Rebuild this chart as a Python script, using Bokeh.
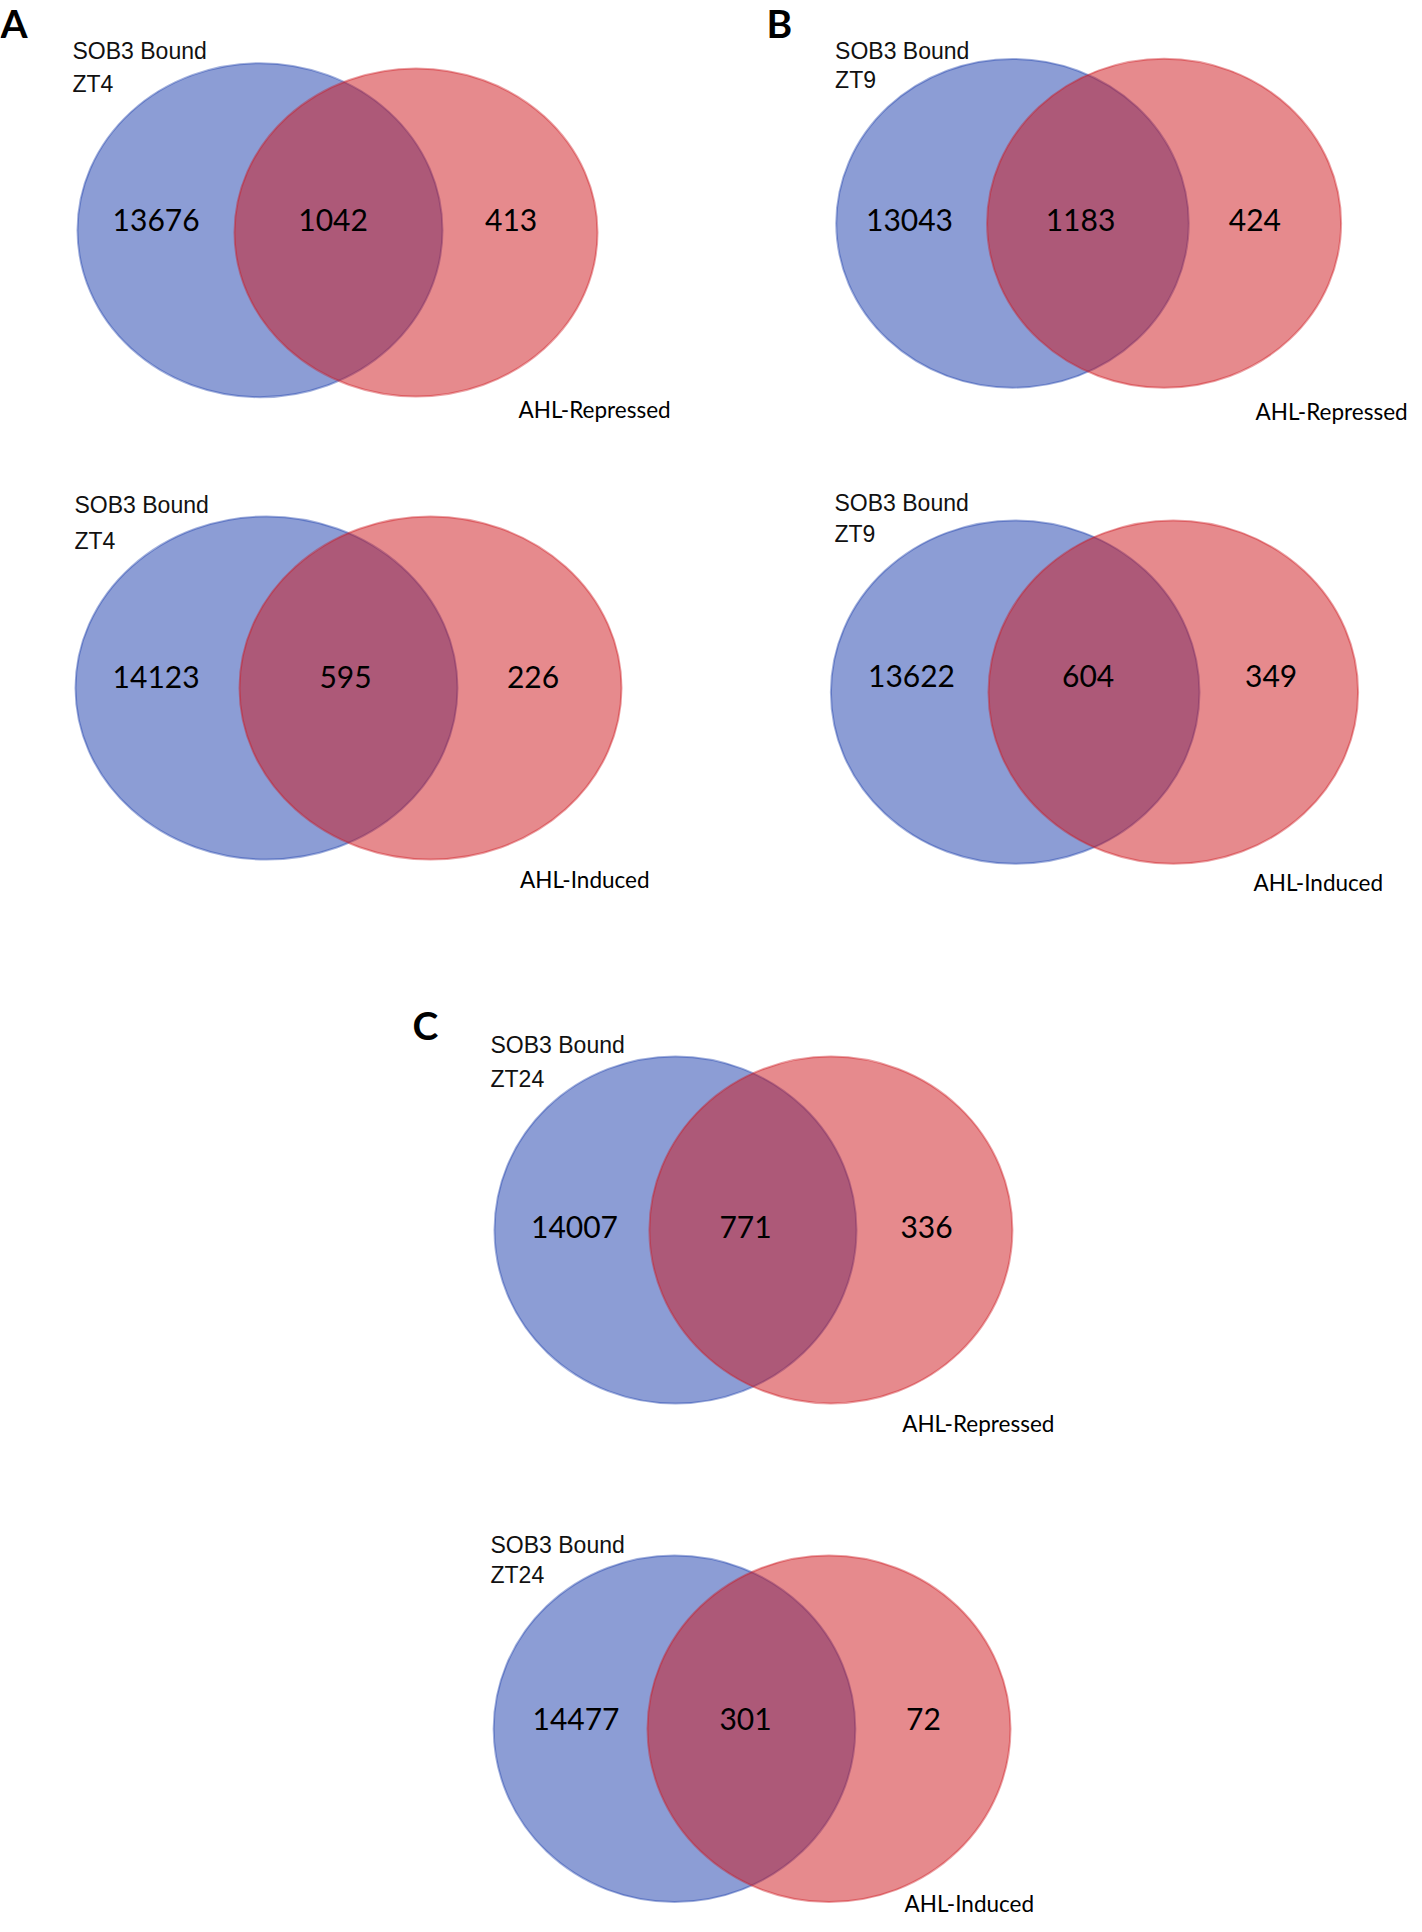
from bokeh.plotting import figure
from bokeh.models import Range1d, ColumnDataSource
from bokeh.core.properties import value
from bokeh.embed import file_html
from bokeh.resources import INLINE

# ---------------- data ----------------
panel_letters = ["A", "A", "B", "B", "C", "C"]
timepoints = ["ZT4", "ZT4", "ZT9", "ZT9", "ZT24", "ZT24"]
set1_name = "SOB3 Bound"
set2_names = ["AHL-Repressed", "AHL-Induced", "AHL-Repressed",
              "AHL-Induced", "AHL-Repressed", "AHL-Induced"]
sob3_only = [13676, 14123, 13043, 13622, 14007, 14477]
shared = [1042, 595, 1183, 604, 771, 301]
ahl_only = [413, 226, 424, 349, 336, 72]

# ---------------- layout (picture pixels, text = visual centre) ----------------
# per diagram: blue ellipse (cx, cy, w, h), red ellipse (cx, cy, w, h),
# count x-centres, count y-centre, set1 label (x, line1 y, line2 y), set2 label (x, y)
layout = [
    dict(blue=(259.5, 229.7, 365, 334), red=(415.5, 232.0, 363, 328),
         cx=(155.6, 332.6, 510.6), cy=220.5, s1=(72, 51.0, 84.0), s2=(518, 410.0)),
    dict(blue=(266.0, 687.5, 382, 343), red=(430.0, 687.5, 382, 343),
         cx=(155.6, 345.0, 532.5), cy=677.0, s1=(74, 505.5, 541.0), s2=(519.5, 880.0)),
    dict(blue=(1012.0, 222.8, 352.5, 329), red=(1163.6, 222.8, 354, 329),
         cx=(909.0, 1080.0, 1254.4), cy=220.8, s1=(834.6, 51.0, 80.0), s2=(1255, 412.0)),
    dict(blue=(1014.7, 691.7, 368.6, 343.3), red=(1172.8, 691.7, 369.6, 343.3),
         cx=(911.0, 1087.6, 1270.6), cy=676.0, s1=(834, 503.5, 534.0), s2=(1253, 882.5)),
    dict(blue=(675.0, 1229.5, 362, 347), red=(830.4, 1229.5, 363, 347),
         cx=(574.0, 745.0, 926.0), cy=1227.0, s1=(490, 1045.0, 1079.0), s2=(901.7, 1424.4)),
    dict(blue=(674.0, 1728.3, 361.7, 346.7), red=(828.5, 1728.3, 363, 346.7),
         cx=(575.5, 745.0, 923.0), cy=1719.0, s1=(490, 1545.0, 1575.0), s2=(904, 1904.0)),
]
letter_pos = {"A": (0, 23.0), "B": (766, 23.0), "C": (412, 1025.0)}
TEXT_DY = 1.0

BLUE = (25, 59, 171)
RED = (205, 21, 27)

W, H = 1414, 1916
p = figure(width=W, height=H, x_range=Range1d(0, W), y_range=Range1d(-H, 0),
           output_backend="svg", toolbar_location=None, min_border=0,
           x_axis_type=None, y_axis_type=None)
p.outline_line_color = None
p.background_fill_color = "white"
p.border_fill_color = "white"

def Y(py):
    return -py

def TY(py):
    return -(py - TEXT_DY)

# ellipses
for key, col in (("blue", BLUE), ("red", RED)):
    src = ColumnDataSource(dict(
        x=[d[key][0] for d in layout],
        y=[Y(d[key][1]) for d in layout],
        w=[d[key][2] for d in layout],
        h=[d[key][3] for d in layout],
    ))
    p.ellipse(x="x", y="y", width="w", height="h", source=src,
              fill_color=col, fill_alpha=0.5, line_color=col, line_alpha=0.4, line_width=2)

# counts
cnt_x, cnt_y, cnt_t = [], [], []
for i, d in enumerate(layout):
    for xc, v in zip(d["cx"], (sob3_only[i], shared[i], ahl_only[i])):
        cnt_x.append(xc)
        cnt_y.append(TY(d["cy"]))
        cnt_t.append(str(v))
p.text(x=cnt_x, y=cnt_y, text=cnt_t, text_font=value("Lato"), text_font_size=value("30px"),
       text_align="center", text_baseline="alphabetic", text_color="#000000")

# set 1 labels (two lines)
s1x, s1y, s1t = [], [], []
for i, d in enumerate(layout):
    s1x += [d["s1"][0], d["s1"][0]]
    s1y += [TY(d["s1"][1]), TY(d["s1"][2])]
    s1t += [set1_name, timepoints[i]]
p.text(x=s1x, y=s1y, text=s1t, text_font=value("Liberation Sans"), text_font_size=value("23px"),
       text_align="left", text_baseline="alphabetic", text_color="#111111")

# set 2 labels
p.text(x=[d["s2"][0] for d in layout], y=[TY(d["s2"][1]) for d in layout], text=set2_names,
       text_font=value("Lato"), text_font_size=value("22.5px"),
       text_align="left", text_baseline="alphabetic", text_color="#000000")

# panel letters
letters = sorted(set(panel_letters))
p.text(x=[letter_pos[l][0] for l in letters], y=[TY(letter_pos[l][1]) for l in letters], text=letters,
       text_font=value("Lato"), text_font_size=value("39px"), text_font_style="bold",
       text_align="left", text_baseline="alphabetic", text_color="#000000")

open("out.html", "w").write(file_html(p, INLINE))
